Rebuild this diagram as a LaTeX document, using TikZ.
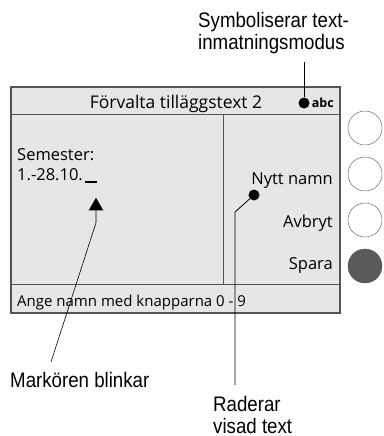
\documentclass[tikz,border=0pt]{standalone}
\usepackage{fontspec}
\usetikzlibrary{positioning,shapes.geometric}
\newfontfamily\dispfont{Open Sans}
\newfontfamily\notefont[FakeStretch=0.89]{Liberation Sans}
\definecolor{panelgray}{HTML}{E6E6E8}
\definecolor{framegray}{HTML}{555555}
\definecolor{knobgray}{HTML}{5A5A5A}
\tikzset{
    disp-text/.style = {font=\dispfont\fontsize{16.5}{20}\selectfont, inner sep=0pt},
    note-text/.style = {font=\notefont\fontsize{21}{22}\selectfont, inner sep=0pt, align=left},
    soft-key/.style = {draw=framegray, fill=white, circle, minimum size=34pt, inner sep=0pt},
    leader/.style = {draw=black, line width=0.8pt},
    leader-dot/.style = {fill=black, circle, inner sep=0pt, minimum size=11pt},
}

\begin{document}
\begin{tikzpicture}[x=1pt, y=-1pt]
\useasboundingbox (0,0) rectangle (383,436);
% display frame
\draw[framegray, fill=panelgray, line width=1.2pt] (11,87) rectangle (340,313);
\draw[framegray, line width=1pt] (11,114) -- (340,114);
\draw[framegray, line width=1pt] (11,284) -- (340,284);
\draw[framegray, line width=1pt] (223,114) -- (223,284);
% display texts
\node[disp-text, font=\dispfont\fontsize{17.5}{20}\selectfont, anchor=base] (title) at (176,108) {Förvalta tilläggstext 2};
\node[leader-dot] (abcdot) at (304,103) {};
\node[font=\dispfont\bfseries\fontsize{12.5}{14}\selectfont, inner sep=0pt, right=2pt of abcdot] (abc) {abc};
\node[disp-text, anchor=base west] (semlabel) at (17,160) {Semester:};
\node[disp-text, anchor=base west] (semdate) at (17,180) {1.-28.10.\hspace{2pt}\rule[-2.5pt]{12pt}{1.3pt}};
\node[regular polygon, regular polygon sides=3, fill=black, draw=white, inner sep=0pt, minimum size=18pt] (caret) at (96,206) {};
\node[disp-text, anchor=base east] (newname) at (333,184) {Nytt namn};
\node[disp-text, anchor=base east] (cancel) at (333,227) {Avbryt};
\node[disp-text, anchor=base east] (save) at (333,269) {Spara};
\node[leader-dot] (newdot) at (254,195) {};
\node[disp-text, font=\dispfont\fontsize{15}{18}\selectfont, anchor=base west] (status) at (17,306) {Ange namn med knapparna 0 - 9};
% soft keys
\foreach \y/\name in {128/keya, 174/keyb, 220/keyc} {
    \node[soft-key] (\name) at (365,\y) {};
}
\node[soft-key, fill=knobgray] (keyd) at (365,266) {};
% callouts
\node[note-text, anchor=base west] (modenote) at (198,50) {Symboliserar text-\\inmatningsmodus};
\coordinate (modeend) at (304,62);
\draw[leader] (modeend) -- (abcdot);
\node[note-text, anchor=base west] (blinknote) at (10,387) {Markören blinkar};
\coordinate (blinkend) at (51,362);
\draw[leader, line width=0.6pt] (caret.south) -- ++(0,12) -- (blinkend);
\node[note-text, anchor=base west] (erasenote) at (213,433) {Raderar\\visad text};
\coordinate (eraseend) at (235,385);
\draw[leader] (newdot) -- (235,212) -- (eraseend);
\end{tikzpicture}
\end{document}
